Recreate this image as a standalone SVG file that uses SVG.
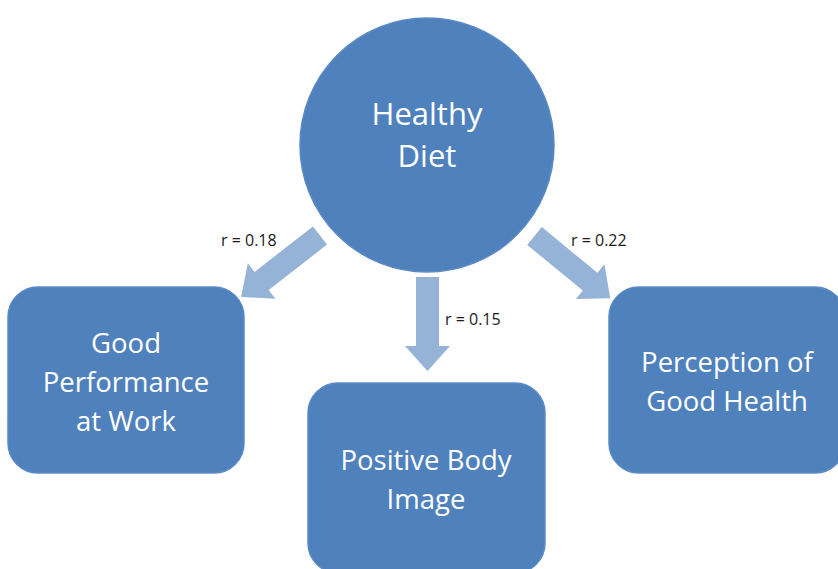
<svg xmlns="http://www.w3.org/2000/svg" width="838" height="569" viewBox="0 0 838 569">
<style>
.node{fill:#4F81BD;stroke:#5A8AC6;stroke-width:1.5}
.nt{fill:#ffffff;font-family:"Open Sans","Liberation Sans",sans-serif;text-anchor:middle}
.arr{fill:#95B3D7}
.lbl{fill:#1a1a1a;font-family:"Open Sans","Liberation Sans",sans-serif;font-size:16px}
</style>
<rect width="838" height="569" fill="#ffffff"/>
<g id="connectors">
<path class="arr" transform="translate(320,235.5) rotate(142.1)" d="M0,-11.5 L74,-11.5 L74,-22.5 L100,0 L74,22.5 L74,11.5 L0,11.5 Z"/>
<path class="arr" transform="translate(534.5,236) rotate(39.4)" d="M0,-11.5 L72,-11.5 L72,-22.5 L98,0 L72,22.5 L72,11.5 L0,11.5 Z"/>
<path class="arr" transform="translate(427.5,277) rotate(90)" d="M0,-11.5 L69,-11.5 L69,-22.5 L94,0 L69,22.5 L69,11.5 L0,11.5 Z"/>
<text class="lbl" x="221" y="246">r = 0.18</text>
<text class="lbl" x="571" y="246">r = 0.22</text>
<text class="lbl" x="445" y="325">r = 0.15</text>
</g>
<g id="healthy-diet">
<circle class="node" cx="427" cy="145" r="127"/>
<text class="nt" font-size="31" x="427" y="125">Healthy</text>
<text class="nt" font-size="31" x="427" y="167">Diet</text>
</g>
<g id="good-performance">
<rect class="node" x="8" y="287" width="236" height="186" rx="30"/>
<text class="nt" font-size="27.5" x="126" y="353">Good</text>
<text class="nt" font-size="27.5" x="126" y="392">Performance</text>
<text class="nt" font-size="27.5" x="126" y="431">at Work</text>
</g>
<g id="positive-body-image">
<rect class="node" x="308" y="383" width="237" height="190" rx="30"/>
<text class="nt" font-size="27.5" x="426" y="470">Positive Body</text>
<text class="nt" font-size="27.5" x="426" y="509">Image</text>
</g>
<g id="perception-good-health">
<rect class="node" x="609" y="287" width="236" height="186" rx="30"/>
<text class="nt" font-size="27.5" x="727" y="372">Perception of</text>
<text class="nt" font-size="27.5" x="727" y="411">Good Health</text>
</g>
</svg>
